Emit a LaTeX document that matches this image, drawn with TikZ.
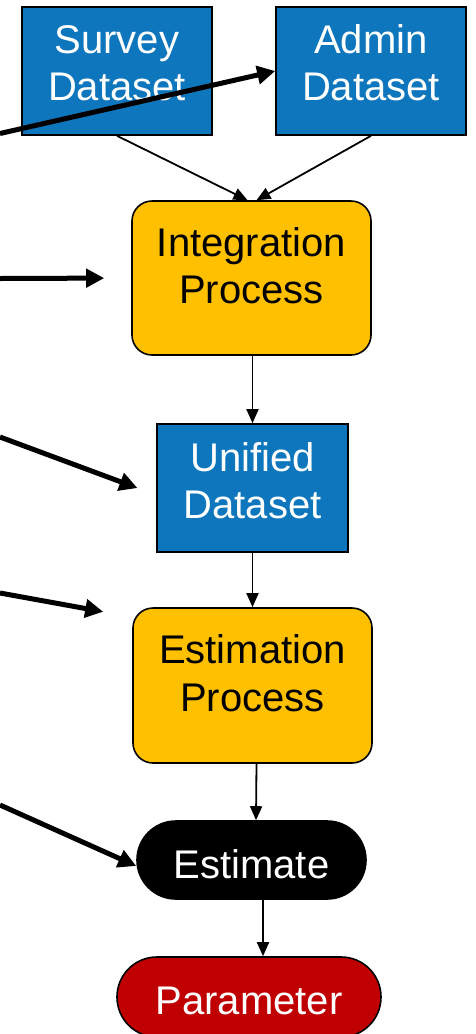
\documentclass[tikz,border=0pt]{standalone}
\usepackage{fontspec}
\setmainfont{Liberation Sans}
\usetikzlibrary{arrows.meta}
\definecolor{dsblue}{RGB}{14,118,188}
\definecolor{procgold}{RGB}{255,192,0}
\definecolor{paramred}{RGB}{192,0,0}
\begin{document}
\begin{tikzpicture}[x=1pt,y=-1pt,
  dataset/.style={draw=black,line width=1.6pt,fill=dsblue,inner sep=0pt},
  process/.style={draw=black,line width=1.6pt,fill=procgold,rounded corners=20pt,inner sep=0pt},
  pill/.style={draw=black,line width=1.6pt,inner sep=0pt},
  lbl/.style={font=\fontsize{40}{47}\selectfont,anchor=base,inner sep=0pt},
  flow/.style={line width=1.8pt,-{Triangle[length=14pt,width=12pt]}},
  pointer/.style={line width=5pt,-{Triangle[length=18pt,width=18pt]}}]
\useasboundingbox (0,0) rectangle (475,1034);

% data sources
\node[dataset,minimum width=190pt,minimum height=128pt] (survey) at (117,71) {};
\node[lbl,text=white] (survey-a) at (117,53) {Survey};
\node[lbl,text=white] (survey-b) at (117,100) {Dataset};
\node[dataset,minimum width=190pt,minimum height=128pt] (admin) at (371,71) {};
\node[lbl,text=white] (admin-a) at (371,53) {Admin};
\node[lbl,text=white] (admin-b) at (371,100) {Dataset};

% integration step
\node[process,minimum width=239pt,minimum height=154pt] (integ) at (251.5,278) {};
\node[lbl] (integ-a) at (251.5,256) {Integration};
\node[lbl] (integ-b) at (251.5,303) {Process};

% unified data
\node[dataset,minimum width=191pt,minimum height=128pt] (unified) at (252.5,488) {};
\node[lbl,text=white] (unified-a) at (252.5,471) {Unified};
\node[lbl,text=white] (unified-b) at (252.5,518) {Dataset};

% estimation step
\node[process,minimum width=239pt,minimum height=155pt] (estim) at (252.5,685.5) {};
\node[lbl] (estim-a) at (252.5,663) {Estimation};
\node[lbl] (estim-b) at (252.5,711) {Process};

% outputs
\node[pill,fill=black,rounded corners=38.9pt,minimum width=229pt,minimum height=78pt] (estimate) at (251.5,860) {};
\node[lbl,text=white] (estimate-a) at (251.5,878) {Estimate};
\node[pill,fill=paramred,rounded corners=39.9pt,minimum width=264pt,minimum height=80pt] (param) at (249,997) {};
\node[lbl,text=white] (param-a) at (249,1014) {Parameter};

% flow connectors
\draw[flow] (survey.south) -- ([xshift=-4pt]integ.north);
\draw[flow] (admin.south) -- ([xshift=5pt]integ.north);
\draw[flow] (unified.north |- integ.south) -- (unified.north);
\draw[flow] (unified.south) -- (unified.south |- estim.north);
\draw[flow] ([xshift=4pt]estim.south) -- ([xshift=4.5pt]estimate.north);
\draw[flow] ([xshift=11.5pt]estimate.south) -- ([xshift=14pt]param.north);

% incoming pointers from the left margin
\coordinate (p1) at (0,133.5);
\coordinate (p2) at (0,278.5);
\coordinate (p3) at (0,437);
\coordinate (p4) at (0,593);
\coordinate (p5) at (0,805);
\draw[pointer] (p1) -- (admin.west);
\draw[pointer,shorten >=27pt] (p2) -- (integ.west);
\draw[pointer,shorten >=20pt] (p3) -- ([yshift=-7pt]unified.west);
\draw[pointer,shorten >=29.5pt] (p4) -- ([yshift=68.5pt]estim.west);
\draw[pointer] (p5) -- ([yshift=-6pt]estimate.west);
\end{tikzpicture}
\end{document}
